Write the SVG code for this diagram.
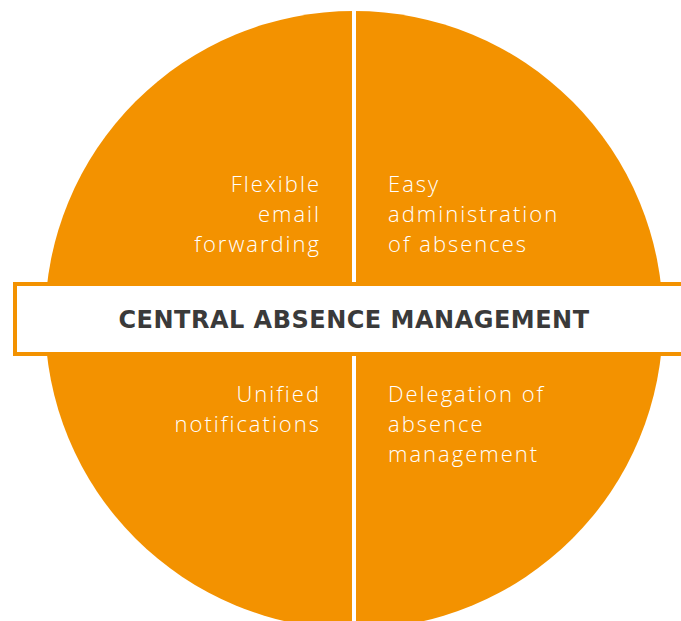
<svg xmlns="http://www.w3.org/2000/svg" width="681" height="621" viewBox="0 0 681 621">
<style>
.q{font-family:"Open Sans","Liberation Sans",sans-serif;font-weight:300;font-size:22px;letter-spacing:2px;fill:#ffffff}
.r{text-anchor:end}
.t{font-family:"DejaVu Sans","Liberation Sans",sans-serif;font-weight:700;font-size:24px;letter-spacing:0.5px;fill:#3a3a3a;text-anchor:middle}
</style>
<rect width="681" height="621" fill="#ffffff"/>
<g id="circle">
<circle cx="354" cy="320" r="309" fill="#F39200"/>
<rect x="352" y="0" width="4" height="621" fill="#ffffff"/>
</g>
<g id="q1"><text class="q r" x="321" y="192">Flexible</text><text class="q r" x="321" y="222">email</text><text class="q r" x="321" y="252">forwarding</text></g>
<g id="q2"><text class="q" x="388" y="192">Easy</text><text class="q" x="388" y="222">administration</text><text class="q" x="388" y="252">of absences</text></g>
<g id="q3"><text class="q r" x="321" y="402">Unified</text><text class="q r" x="321" y="432">notifications</text></g>
<g id="q4"><text class="q" x="388" y="402">Delegation of</text><text class="q" x="388" y="432">absence</text><text class="q" x="388" y="462">management</text></g>
<g id="banner">
<rect x="15" y="284" width="680" height="70" fill="#ffffff" stroke="#F39200" stroke-width="4"/>
<text class="t" x="354" y="328">CENTRAL ABSENCE MANAGEMENT</text>
</g>
</svg>
